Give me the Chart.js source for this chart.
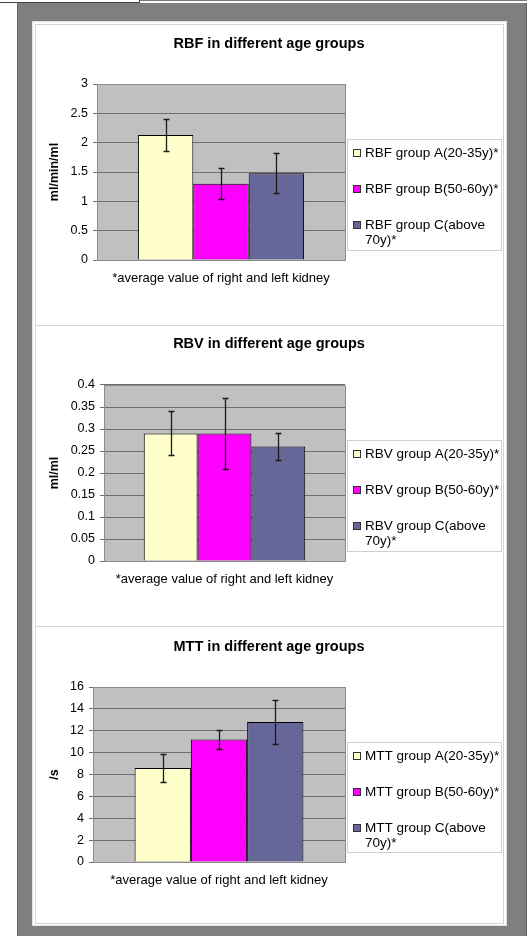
<!doctype html>
<html lang="en">
<head>
<meta charset="utf-8">
<title>RBF, RBV and MTT in different age groups</title>
<script src="https://cdn.jsdelivr.net/npm/chart.js@4.4.1/dist/chart.umd.min.js"></script>
<style>
  html, body { margin: 0; padding: 0; background: #fff; }
  body { width: 532px; height: 936px; position: relative; overflow: hidden; }
  .box { position: absolute; box-sizing: border-box; }
  #topLeft { left: 0; top: 0; width: 140px; height: 3px; border-bottom: 1px solid #444; border-right: 1px solid #444; }
  #topRight { left: 140px; top: 0; width: 387px; height: 1px; background: #777; }
  #frame { left: 17px; top: 3px; width: 510px; height: 933px; background: #7f7f7f; border-left: 1px solid #6a6a6a; border-right: 1px solid #5e5e5e; }
  #sheet { left: 32px; top: 21px; width: 475px; height: 905px; background: #fff; border: 1px solid #e2e2e2; }
  .panel { left: 35px; width: 469px; border: 1px solid #d4d4d4; }
  canvas { position: absolute; left: 35px; }
</style>
</head>
<body>
<div class="box" id="topLeft"></div>
<div class="box" id="topRight"></div>
<div class="box" id="frame"></div>
<div class="box" id="sheet"></div>
<div class="box panel" style="top:24px;height:302px"></div>
<div class="box panel" style="top:325px;height:302px"></div>
<div class="box panel" style="top:626px;height:298px"></div>

<canvas id="rbfChart" width="468" height="300" style="top:24px"></canvas>
<canvas id="rbvChart" width="468" height="298" style="top:326px"></canvas>
<canvas id="mttChart" width="468" height="296" style="top:627px"></canvas>

<script>
// data
const categories = ['*average value of right and left kidney'];
const groupNames = ['group A(20-35y)*', 'group B(50-60y)*', 'group C(above 70y)*'];
const groupColors = ['#ffffcc', '#ff00ff', '#666699'];

const rbfMeans = [2.13, 1.30, 1.48];
const rbfErrors = [0.27, 0.26, 0.34];

const rbvMeans = [0.29, 0.29, 0.26];
const rbvErrors = [0.05, 0.08, 0.03];

const mttMeans = [8.6, 11.2, 12.8];
const mttErrors = [1.25, 0.9, 2.0];

const FONT = '"Liberation Sans", Arial, Helvetica, sans-serif';
Chart.defaults.font.family = FONT;
Chart.defaults.color = '#000';

function wrapText(ctx, text, maxWidth) {
    var words = text.split(' '), lines = [], line = '';
    words.forEach(function (w) {
        var test = line ? line + ' ' + w : w;
        if (line && ctx.measureText(test).width > maxWidth) {
            lines.push(line);
            line = w;
        } else {
            line = test;
        }
    });
    lines.push(line);
    return lines;
}

// grey plot area, border, error bars and the boxed legend on the right
const excelLook = {
    id: 'excelLook',
    beforeDraw: function (chart) {
        var a = chart.chartArea, ctx = chart.ctx;
        ctx.save();
        ctx.fillStyle = '#c0c0c0';
        ctx.fillRect(a.left, a.top, a.right - a.left, a.bottom - a.top);
        ctx.restore();
    },
    beforeDatasetsDraw: function (chart) {
        var a = chart.chartArea, ctx = chart.ctx;
        ctx.save();
        ctx.strokeStyle = '#8c8c8c';
        ctx.lineWidth = 1;
        ctx.strokeRect(Math.round(a.left) + 0.5, Math.round(a.top) + 0.5,
            Math.round(a.right - a.left), Math.round(a.bottom - a.top));
        ctx.restore();
    },
    afterDatasetsDraw: function (chart) {
        var ctx = chart.ctx, y = chart.scales.y;
        ctx.save();
        ctx.strokeStyle = '#1a1a1a';
        ctx.lineWidth = 1.3;
        chart.data.datasets.forEach(function (ds, i) {
            var bar = chart.getDatasetMeta(i).data[0];
            var v = ds.data[0], e = ds.errors[0];
            var x = Math.round(bar.x) + 0.5;
            var yt = Math.round(y.getPixelForValue(v + e)) + 0.5;
            var yb = Math.round(y.getPixelForValue(v - e)) + 0.5;
            ctx.beginPath();
            ctx.moveTo(x, yt); ctx.lineTo(x, yb);
            ctx.moveTo(x - 3, yt); ctx.lineTo(x + 3, yt);
            ctx.moveTo(x - 3, yb); ctx.lineTo(x + 3, yb);
            ctx.stroke();
        });
        ctx.restore();
    },
    afterDraw: function (chart) {
        var a = chart.chartArea, ctx = chart.ctx;
        var left = Math.round(a.right) + 2, top = Math.round(a.top) + 55;
        var w = 154, h = Math.round(a.bottom) - 10 - top;
        ctx.save();
        ctx.strokeStyle = '#d0d0d0';
        ctx.lineWidth = 1;
        ctx.strokeRect(left + 0.5, top + 0.5, w, h);
        ctx.font = '13.5px ' + FONT;
        ctx.textBaseline = 'middle';
        chart.data.datasets.forEach(function (ds, i) {
            var cy = top + 14 + i * 36;
            ctx.fillStyle = ds.backgroundColor;
            ctx.fillRect(left + 6, Math.round(cy - 4), 8, 8);
            ctx.strokeStyle = '#333';
            ctx.strokeRect(left + 6.5, Math.round(cy - 4) + 0.5, 7, 7);
            ctx.fillStyle = '#000';
            wrapText(ctx, ds.label, 140).forEach(function (ln, k) {
                ctx.fillText(ln, left + 18, cy + k * 15);
            });
        });
        ctx.restore();
    }
};

function makeChart(id, cfg) {
    var datasets = cfg.means.map(function (m, i) {
        return {
            label: cfg.prefix + ' ' + groupNames[i],
            data: [m],
            errors: [cfg.errors[i]],
            backgroundColor: groupColors[i],
            borderColor: '#000',
            borderWidth: 1,
            categoryPercentage: 0.67,
            barPercentage: 1.0
        };
    });
    var lh = 14.5 * 1.2;
    var ylh = 12.5 * 1.2;
    return new Chart(document.getElementById(id), {
        type: 'bar',
        data: { labels: categories, datasets: datasets },
        options: {
            responsive: false,
            animation: false,
            devicePixelRatio: 1,
            events: [],
            layout: { padding: 0 },
            plugins: {
                legend: { display: false },
                tooltip: { enabled: false },
                title: {
                    display: true,
                    text: cfg.title,
                    color: '#000',
                    font: { size: 14.5, weight: 'bold' },
                    padding: { top: cfg.titleY - lh / 2, bottom: cfg.plotTop - cfg.titleY - lh / 2 }
                }
            },
            scales: {
                x: {
                    grid: { display: false, drawTicks: false },
                    border: { display: false },
                    ticks: { color: '#000', font: { size: 13 }, padding: 11, maxRotation: 0, autoSkip: false },
                    afterFit: function (s) { s.height = cfg.xHeight; }
                },
                y: {
                    min: 0,
                    max: cfg.max,
                    ticks: {
                        stepSize: cfg.step,
                        color: '#000',
                        font: { size: 12.5 },
                        padding: 5,
                        callback: function (v) { return String(+v.toFixed(2)); }
                    },
                    grid: { color: '#6e6e6e', tickLength: 4 },
                    border: { display: false },
                    title: {
                        display: true,
                        text: cfg.yTitle,
                        color: '#000',
                        font: { size: 12.5, weight: 'bold' },
                        padding: { top: 20 - ylh / 2, bottom: 0 }
                    },
                    afterFit: function (s) { s.width = cfg.plotLeft; }
                },
                legendSpace: {
                    position: 'right',
                    display: true,
                    grid: { display: false, drawTicks: false },
                    border: { display: false },
                    ticks: { display: false },
                    afterFit: function (s) { s.width = 158; }
                }
            }
        },
        plugins: [excelLook]
    });
}

makeChart('rbfChart', {
    title: 'RBF in different age groups', yTitle: 'ml/min/ml', prefix: 'RBF',
    means: rbfMeans, errors: rbfErrors, max: 3, step: 0.5,
    titleY: 20, plotTop: 60, plotLeft: 62, xHeight: 64
});
makeChart('rbvChart', {
    title: 'RBV in different age groups', yTitle: 'ml/ml', prefix: 'RBV',
    means: rbvMeans, errors: rbvErrors, max: 0.4, step: 0.05,
    titleY: 18, plotTop: 59, plotLeft: 69, xHeight: 63
});
makeChart('mttChart', {
    title: 'MTT in different age groups', yTitle: '/s', prefix: 'MTT',
    means: mttMeans, errors: mttErrors, max: 16, step: 2,
    titleY: 20, plotTop: 60, plotLeft: 58, xHeight: 61
});
</script>
</body>
</html>
